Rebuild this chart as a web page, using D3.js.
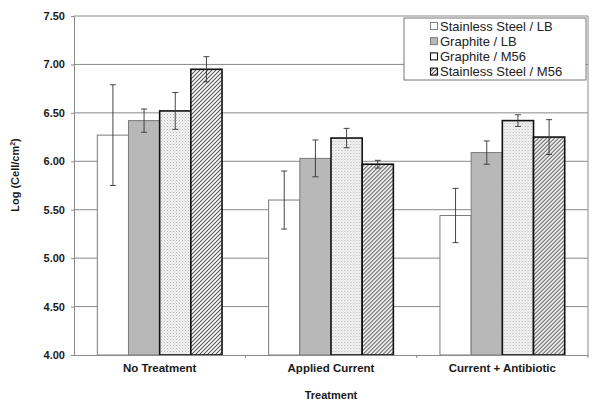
<!DOCTYPE html>
<html><head><meta charset="utf-8">
<script src="https://cdn.jsdelivr.net/npm/d3@7"></script>
<style>body{margin:0;background:#fff}svg{display:block;font-family:"Liberation Sans",Arial,sans-serif}</style>
</head><body><svg id="c" width="600" height="407"></svg>
<script>
const categories = ["No Treatment", "Applied Current", "Current + Antibiotic"];
const seriesNames = ["Stainless Steel / LB", "Graphite / LB", "Graphite / M56", "Stainless Steel / M56"];
const ssLB  = [6.27, 5.60, 5.44];
const grLB  = [6.42, 6.03, 6.09];
const grM56 = [6.52, 6.24, 6.42];
const ssM56 = [6.95, 5.97, 6.25];
const ssLBErr  = [0.52, 0.30, 0.28];
const grLBErr  = [0.12, 0.19, 0.12];
const grM56Err = [0.19, 0.10, 0.06];
const ssM56Err = [0.13, 0.04, 0.18];
const yTicks = [4.0, 4.5, 5.0, 5.5, 6.0, 6.5, 7.0, 7.5];

const values = [ssLB, grLB, grM56, ssM56];
const errs = [ssLBErr, grLBErr, grM56Err, ssM56Err];

const svg = d3.select("#c");
const L = 74, R = 588, T = 16, B = 355;
const defs = svg.append("defs");
const dots = defs.append("pattern").attr("id","dots").attr("patternUnits","userSpaceOnUse").attr("width",3).attr("height",3);
dots.append("rect").attr("width",3).attr("height",3).attr("fill","#f4f4f4");
dots.append("rect").attr("width",1).attr("height",1).attr("fill","#b0b0b0");
dots.append("rect").attr("x",1.5).attr("y",1.5).attr("width",1).attr("height",1).attr("fill","#c8c8c8");
const hatch = defs.append("pattern").attr("id","hatch").attr("patternUnits","userSpaceOnUse").attr("width",4).attr("height",4);
hatch.append("rect").attr("width",4).attr("height",4).attr("fill","#fff");
hatch.append("path").attr("d","M-1,1 l2,-2 M0,4 l4,-4 M3,5 l2,-2").attr("stroke","#555").attr("stroke-width",1.1);

const fills = ["#ffffff", "#b8b8b8", "url(#dots)", "url(#hatch)"];
const strokes = ["#7a7a7a", "#7a7a7a", "#111", "#111"];
const sw = [1, 1, 1.6, 1.6];

const y = d3.scaleLinear().domain([4, 7.5]).range([B, T]);
const x0 = d3.scaleBand().domain(categories).range([L, R]).paddingInner(0).paddingOuter(0);
const x1 = d3.scaleBand().domain(d3.range(4)).range([23.3, x0.bandwidth()-23.3]).padding(0);

// gridlines
svg.append("g").selectAll("line").data(yTicks.filter(v=>v>4)).join("line")
  .attr("x1", L).attr("x2", R).attr("y1", d=>y(d)).attr("y2", d=>y(d))
  .attr("stroke","#8a8a8a").attr("stroke-width",1);
svg.append("line").attr("x1",R).attr("x2",R).attr("y1",T).attr("y2",B).attr("stroke","#8a8a8a");

// bars
const groups = svg.append("g").selectAll("g").data(categories).join("g")
  .attr("transform", d=>`translate(${x0(d)},0)`);
groups.each(function(cat, ci){
  const g = d3.select(this);
  for (let s=0; s<4; s++){
    const v = values[s][ci];
    g.append("rect").attr("x", x1(s)).attr("width", x1.bandwidth())
      .attr("y", y(v)).attr("height", B - y(v))
      .attr("fill", fills[s]).attr("stroke", strokes[s]).attr("stroke-width", sw[s]);
  }
  for (let s=0; s<4; s++){
    const v = values[s][ci], e = errs[s][ci];
    const cx = x1(s) + x1.bandwidth()/2;
    g.append("path").attr("d", `M${cx},${y(v+e)}V${y(v-e)}M${cx-3},${y(v+e)}h6M${cx-3},${y(v-e)}h6`)
      .attr("stroke","#333").attr("stroke-width",0.9).attr("fill","none");
  }
});

// y axis
const yAxis = svg.append("g").attr("transform",`translate(${L},0)`)
  .call(d3.axisLeft(y).tickValues(yTicks).tickFormat(d3.format(".2f")).tickSize(3).tickPadding(6));
yAxis.select(".domain").attr("stroke","#8a8a8a");
yAxis.selectAll(".tick line").attr("stroke","#8a8a8a");
yAxis.selectAll("text").attr("font-size",11).attr("font-weight","bold").attr("fill","#1a1a1a").attr("font-family","Liberation Sans, Arial, sans-serif");

// x axis
const xAxis = svg.append("g").attr("transform",`translate(0,${B})`)
  .call(d3.axisBottom(x0).tickSize(0).tickPadding(9));
xAxis.select(".domain").attr("stroke","#8a8a8a");
xAxis.selectAll("text").attr("font-size",11.5).attr("font-weight","bold").attr("fill","#1a1a1a").attr("font-family","Liberation Sans, Arial, sans-serif");
svg.append("g").selectAll("line").data(categories).join("line")
  .attr("x1", d=>x0(d)+x0.bandwidth()).attr("x2", d=>x0(d)+x0.bandwidth())
  .attr("y1", B).attr("y2", B+3).attr("stroke","#8a8a8a");

// axis titles
svg.append("text").attr("x", (L+R)/2).attr("y", 399).attr("text-anchor","middle")
  .attr("font-size",11).attr("font-weight","bold").attr("fill","#1a1a1a").text("Treatment");
const yt = svg.append("text").attr("transform","translate(19,175) rotate(-90)").attr("text-anchor","middle")
  .attr("font-size",11).attr("font-weight","bold").attr("fill","#1a1a1a");
yt.append("tspan").text("Log (Cell/cm");
yt.append("tspan").attr("font-size",7).attr("dy",-4).text("2");
yt.append("tspan").attr("dy",4).text(")");

// legend
const lg = svg.append("g").attr("transform","translate(404,18)");
lg.append("rect").attr("width",182).attr("height",62).attr("fill","#fff").attr("stroke","#777");
const lfills = ["#ffffff", "#b8b8b8", "#ffffff", "url(#hatch)"];
seriesNames.forEach((n,i)=>{
  const yy = 8 + i*15.2;
  lg.append("rect").attr("x",26.5).attr("y",yy-3.5).attr("width",7).attr("height",7)
    .attr("fill", lfills[i]).attr("stroke", i<2 ? "#666" : "#111").attr("stroke-width", i<2?0.8:1.1);
  lg.append("text").attr("x",36).attr("y",yy+4.5).attr("font-size",13).attr("fill","#222").text(n);
});
</script></body></html>
